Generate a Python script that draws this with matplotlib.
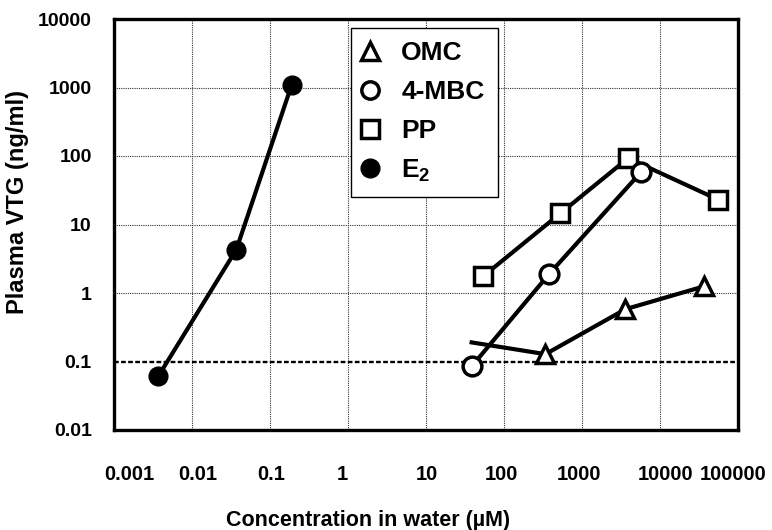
import matplotlib
matplotlib.use("Agg")
import matplotlib.pyplot as plt
import matplotlib.transforms as mtransforms
from matplotlib.lines import Line2D

plt.rcParams['font.family'] = ['Liberation Sans', 'DejaVu Sans']
plt.rcParams['font.weight'] = 'bold'
plt.rcParams['mathtext.fontset'] = 'custom'
plt.rcParams['mathtext.rm'] = 'Liberation Sans:bold'
plt.rcParams['mathtext.bf'] = 'Liberation Sans:bold'
plt.rcParams['mathtext.it'] = 'Liberation Sans:bold'

# values (µM vs ng/ml)
omc_x = [38.5, 340, 3600, 36600]
omc_y = [0.19, 0.128, 0.58, 1.25]
mbc_x = [38.5, 380, 5700]
mbc_y = [0.085, 1.9, 58]
pp_x = [54, 530, 3900, 56000]
pp_y = [1.75, 14.6, 93, 23]
e2_x = [0.0037, 0.037, 0.19]
e2_y = [0.061, 4.3, 1100]

x_ticks = [0.001, 0.01, 0.1, 1, 10, 100, 1000, 10000, 100000]
x_labels = ["0.001", "0.01", "0.1", "1", "10", "100", "1000", "10000", "100000"]
y_ticks = [0.01, 0.1, 1, 10, 100, 1000, 10000]
y_labels = ["0.01", "0.1", "1", "10", "100", "1000", "10000"]

fig = plt.figure(figsize=(7.72, 5.30), dpi=100)
ax = fig.add_axes([114 / 772, 1 - 430 / 530, 624 / 772, 411 / 530])
ax.set_xscale("log")
ax.set_yscale("log")
ax.set_xlim(0.001, 100000)
ax.set_ylim(0.01, 10000)

lw = 3
ms = 13.5
mew = 2.5

# gridlines
for xt in x_ticks[1:-1]:
    ax.axvline(xt, color="#333333", lw=0.8, ls=(0, (1, 1)), zorder=1)
for yt in y_ticks[1:-1]:
    if yt == 0.1:
        ax.axhline(yt, color="black", lw=1.7, ls=(0, (2, 1)), zorder=1)
    else:
        ax.axhline(yt, color="#333333", lw=0.8, ls=(0, (1, 1)), zorder=1)

ax.plot(omc_x, omc_y, color="black", lw=lw, marker="^", ms=ms, mfc="white",
        mec="black", mew=mew, markevery=[1, 2, 3], zorder=3)
ax.plot(pp_x, pp_y, color="black", lw=lw, marker="s", ms=ms - 1, mfc="white",
        mec="black", mew=mew, zorder=3)
ax.plot(mbc_x, mbc_y, color="black", lw=lw, marker="o", ms=ms, mfc="white",
        mec="black", mew=mew, zorder=4)
ax.plot(e2_x, e2_y, color="black", lw=lw, marker="o", ms=ms, mfc="black",
        mec="black", mew=1, zorder=4)

ax.set_xticks(x_ticks)
ax.set_xticklabels(x_labels)
ax.set_yticks(y_ticks)
ax.set_yticklabels(y_labels)
ax.minorticks_off()
ax.tick_params(axis="x", length=0, pad=25, labelsize=14.5)
ax.tick_params(axis="y", length=0, pad=16, labelsize=14)

# excel-style label offsets along x
x_shift = [15, 6, 1, -6, 1, -3, -3, 6, -5]
for lab, dx in zip(ax.get_xticklabels(), x_shift):
    lab.set_transform(lab.get_transform() +
                      mtransforms.ScaledTranslation(dx / 100, 0, fig.dpi_scale_trans))

for sp in ax.spines.values():
    sp.set_linewidth(2.4)

ax.set_xlabel("Concentration in water (µM)", fontsize=15.5, fontweight="bold", va="center")
ax.xaxis.set_label_coords(0.407, -0.219)
ax.set_ylabel("Plasma VTG (ng/ml)", fontsize=17, fontweight="bold", va="center")
ax.yaxis.set_label_coords(-0.154, 0.555)

handles = [
    Line2D([], [], ls="none", marker="^", ms=ms, mfc="white", mec="black", mew=mew),
    Line2D([], [], ls="none", marker="o", ms=ms - 1, mfc="white", mec="black", mew=mew),
    Line2D([], [], ls="none", marker="s", ms=ms - 1, mfc="white", mec="black", mew=mew),
    Line2D([], [], ls="none", marker="o", ms=ms, mfc="black", mec="black", mew=1),
]
names = ["OMC", "4-MBC", "PP", "E$_2$"]
leg = ax.legend(handles, names, loc="upper left",
                bbox_to_anchor=(351 / 772, 1 - 28 / 530), bbox_transform=fig.transFigure,
                fontsize=19, frameon=True, fancybox=False, edgecolor="black",
                framealpha=1, borderpad=0.5, handlelength=0.45, handletextpad=0.95,
                labelspacing=0.56, borderaxespad=0)
leg.get_frame().set_linewidth(1.0)
for t in leg.get_texts():
    t.set_fontweight("bold")

fig.savefig("out.png", dpi=100)
